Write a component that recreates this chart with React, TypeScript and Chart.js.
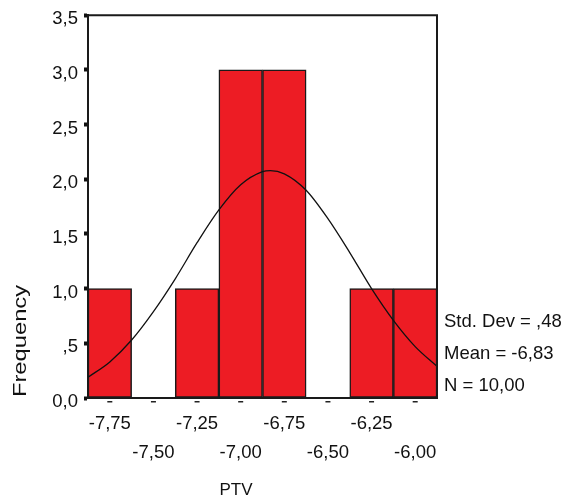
import React, { useEffect, useRef } from "react";
import { Chart, registerables } from "chart.js";

Chart.register(...registerables);

// Histogram bins (centres) and counts
const BIN_CENTERS = [-7.75, -7.5, -7.25, -7.0, -6.75, -6.5, -6.25, -6.0];
const FREQUENCIES = [1, 0, 1, 3, 3, 0, 1, 1];

// Fitted normal curve
const CURVE_X = [-7.875, -7.75, -7.625, -7.5, -7.375, -7.25, -7.125, -7.0, -6.875, -6.83, -6.75, -6.625, -6.5, -6.375, -6.25, -6.125, -6.0, -5.875];
const CURVE_Y = [0.19, 0.33, 0.53, 0.79, 1.09, 1.42, 1.72, 1.95, 2.07, 2.08, 2.05, 1.9, 1.64, 1.33, 1.0, 0.71, 0.47, 0.29];

// Axis ticks and labels
const X_TICKS = [-7.75, -7.5, -7.25, -7.0, -6.75, -6.5, -6.25, -6.0];
const X_LABELS = ["-7,75", "-7,50", "-7,25", "-7,00", "-6,75", "-6,50", "-6,25", "-6,00"];
const Y_LABELS = ["0,0", ",5", "1,0", "1,5", "2,0", "2,5", "3,0", "3,5"];

const X_TITLE = "PTV";
const Y_TITLE = "Frequency";
const STATS = ["Std. Dev = ,48", "Mean = -6,83", "N = 10,00"];

const FONT = "'Liberation Sans', Arial, sans-serif";

const decorPlugin = {
  id: "decor",
  afterDraw(chart: any) {
    const { ctx, chartArea } = chart;
    const { left, right, top, bottom } = chartArea;
    const xs = chart.scales.x;
    ctx.save();
    // top and right frame
    ctx.strokeStyle = "#1a1a1a";
    ctx.lineWidth = 2;
    ctx.beginPath();
    ctx.moveTo(left, top);
    ctx.lineTo(right, top);
    ctx.lineTo(right, bottom);
    ctx.stroke();
    // small dash tick marks below the x axis
    ctx.fillStyle = "#222";
    X_TICKS.forEach((v) => {
      const px = xs.getPixelForValue(v);
      ctx.fillRect(px - 2.5, bottom + 3, 5, 1.5);
    });
    // texts
    ctx.fillStyle = "#111";
    ctx.font = `17px ${FONT}`;
    ctx.textAlign = "center";
    ctx.textBaseline = "middle";
    ctx.fillText(X_TITLE, 236, 490);

    ctx.textAlign = "left";
    ctx.font = `18.5px ${FONT}`;
    const statY = [322, 354, 386];
    STATS.forEach((s, i) => ctx.fillText(s, 444, statY[i]));

    ctx.save();
    ctx.translate(21, 341);
    ctx.rotate(-Math.PI / 2);
    ctx.scale(1.25, 1);
    ctx.font = `19px ${FONT}`;
    ctx.textAlign = "center";
    ctx.textBaseline = "middle";
    ctx.fillText(Y_TITLE, 0, 0);
    ctx.restore();

    ctx.restore();
  },
};

export default function App() {
  const ref = useRef<HTMLCanvasElement>(null);

  useEffect(() => {
    if (!ref.current) return;
    const chart = new Chart(ref.current, {
      type: "bar",
      data: {
        datasets: [
          {
            type: "line",
            data: CURVE_X.map((x, i) => ({ x, y: CURVE_Y[i] })),
            borderColor: "#111",
            borderWidth: 1.3,
            pointRadius: 0,
            cubicInterpolationMode: "monotone",
            fill: false,
            order: 0,
          } as any,
          {
            type: "bar",
            data: BIN_CENTERS.map((x, i) => ({ x, y: FREQUENCIES[i] })),
            backgroundColor: "#ED1C24",
            borderColor: "#1a1a1a",
            borderWidth: 1.5,
            barPercentage: 1,
            categoryPercentage: 1,
            borderSkipped: false,
            order: 1,
          } as any,
        ],
      },
      options: {
        animation: false,
        responsive: false,
        events: [],
        layout: { padding: { left: 0, right: 131, top: 14, bottom: 0 } },
        plugins: {
          legend: { display: false },
          tooltip: { enabled: false },
          title: { display: false },
        },
        scales: {
          x: {
            type: "linear",
            offset: false,
            min: -7.875,
            max: -5.875,
            grid: { display: false, drawTicks: false },
            border: { display: true, width: 2, color: "#1a1a1a" },
            afterBuildTicks: (scale: any) => {
              scale.ticks = X_TICKS.map((value) => ({ value }));
            },
            afterFit: (scale: any) => {
              scale.height = 104;
            },
            ticks: {
              autoSkip: false,
              maxRotation: 0,
              minRotation: 0,
              padding: 11,
              color: "#111",
              font: { family: FONT, size: 18.5, lineHeight: 1.6 },
              callback: (_v: any, i: number) => (i % 2 === 0 ? X_LABELS[i] : ["", X_LABELS[i]]),
            },
          },
          y: {
            min: 0,
            max: 3.5,
            grid: {
              display: true,
              drawOnChartArea: false,
              drawTicks: true,
              tickLength: 4,
              tickWidth: 4,
              tickColor: "#111",
            },
            border: { display: true, width: 2, color: "#1a1a1a" },
            afterFit: (scale: any) => {
              scale.width = 88;
            },
            ticks: {
              stepSize: 0.5,
              padding: 6,
              labelOffset: 4,
              color: "#111",
              font: { family: FONT, size: 18.5, lineHeight: 1.0 },
              callback: (v: any) => Y_LABELS[Math.round(Number(v) / 0.5)],
            },
          },
        },
      },
      plugins: [decorPlugin],
    });
    return () => chart.destroy();
  }, []);

  return (
    <div style={{ position: "absolute", left: 0, top: 0, width: 568, height: 502 }}>
      <canvas ref={ref} width={568} height={502} style={{ display: "block" }} />
    </div>
  );
}
